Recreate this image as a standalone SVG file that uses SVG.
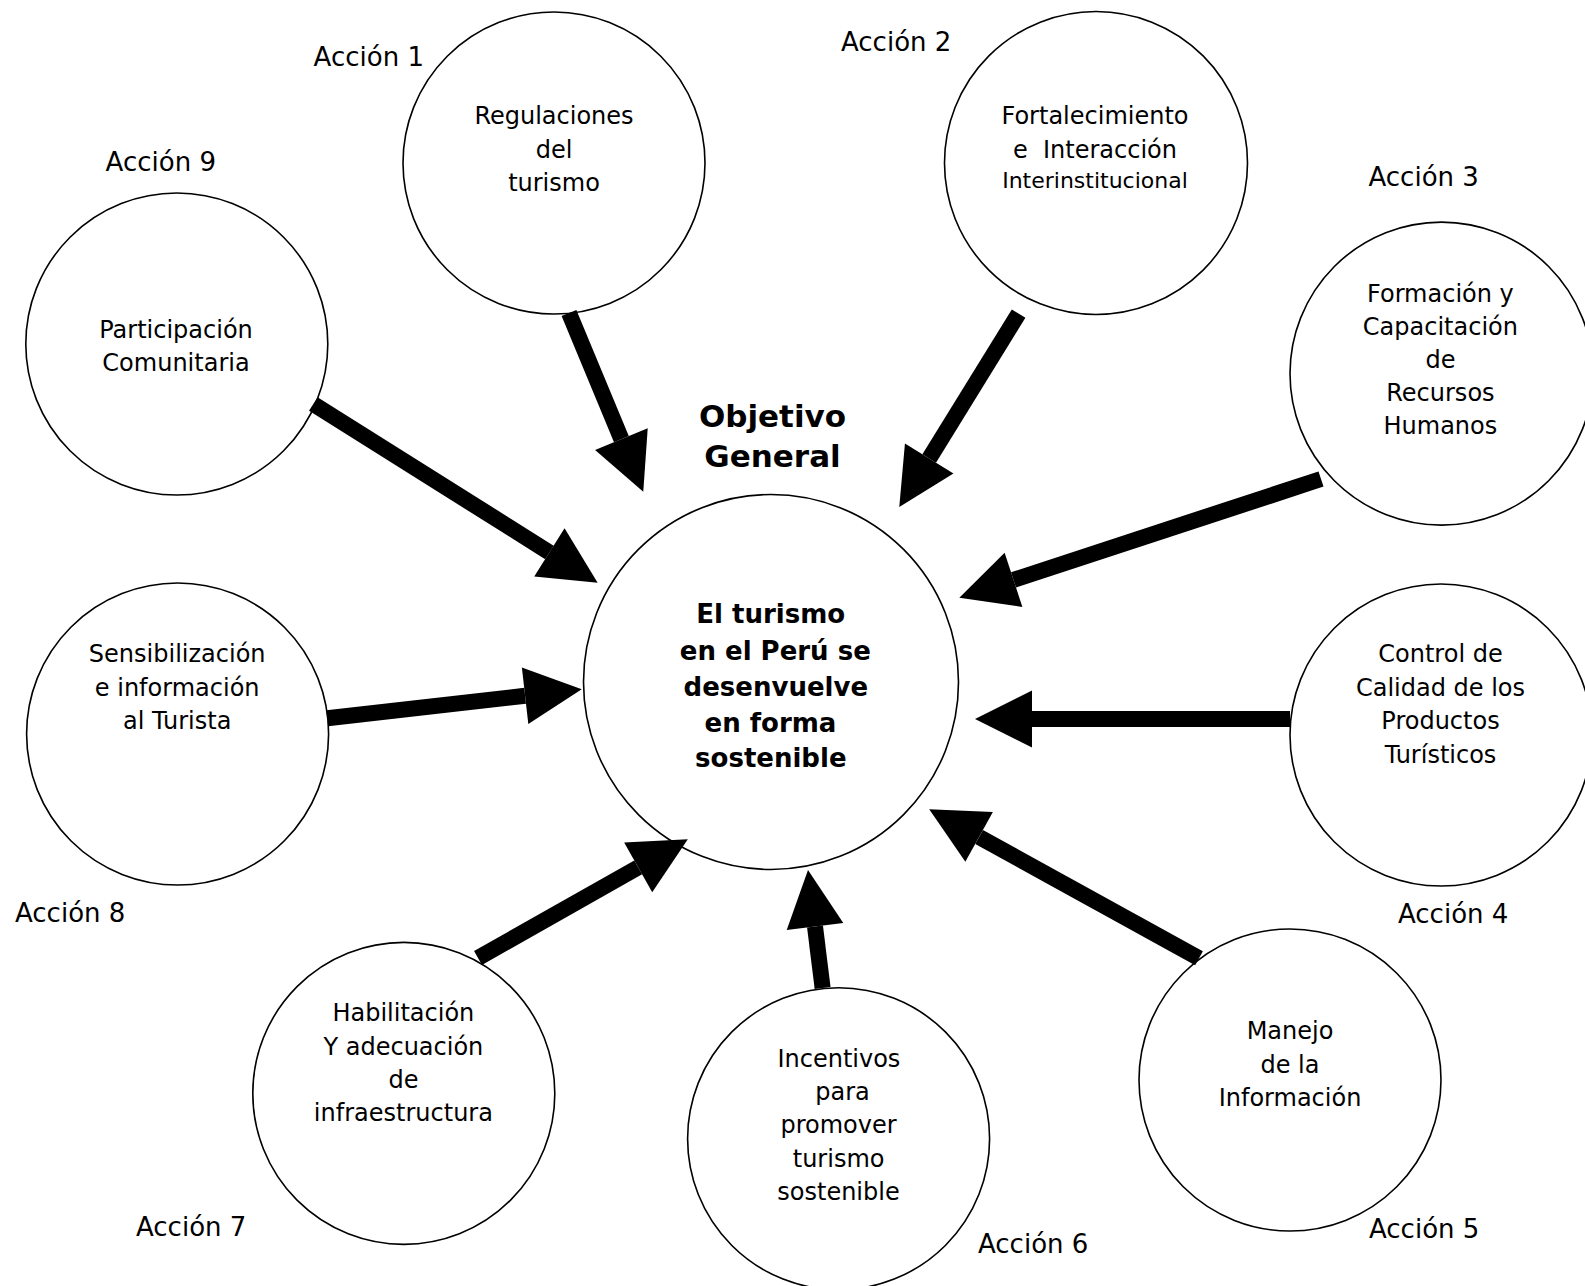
<svg xmlns="http://www.w3.org/2000/svg" width="1585" height="1286" viewBox="0 0 1585 1286">
<style>
.c{fill:#fff;stroke:#000;stroke-width:1.6}
.t{font-family:"DejaVu Sans","Liberation Sans",sans-serif;font-size:24px;fill:#000;text-anchor:middle}
.s{font-size:22px}
.a{font-family:"DejaVu Sans","Liberation Sans",sans-serif;font-size:26px;fill:#000}
.b{font-family:"DejaVu Sans","Liberation Sans",sans-serif;font-weight:bold;font-size:26px;fill:#000;text-anchor:middle}
.h{font-size:31px}
.sh{stroke:#000;stroke-width:16;fill:none;marker-end:url(#head)}
</style>
<defs>
<marker id="head" markerUnits="userSpaceOnUse" markerWidth="58" markerHeight="58" refX="0" refY="28.5" orient="auto" overflow="visible">
<path d="M0,0 L57,28.5 L0,57 Z" fill="#000"/>
</marker>
</defs>
<rect width="1585" height="1286" fill="#fff"/>

<g id="center">
<circle class="c" cx="771" cy="682" r="187.5"/>
<text class="b" x="770.7" y="623.3">El turismo</text>
<text class="b" x="775.3" y="660">en el Perú se</text>
<text class="b" x="775.8" y="696">desenvuelve</text>
<text class="b" x="770.5" y="731.7">en forma</text>
<text class="b" x="770.8" y="767.3">sostenible</text>
</g>
<g id="objetivo">
<text class="b h" x="772.5" y="426.7">Objetivo</text>
<text class="b h" x="772.5" y="466.7">General</text>
</g>

<g id="n1">
<circle class="c" cx="554" cy="163" r="151"/>
<text class="t" x="554" y="124.3">Regulaciones</text>
<text class="t" x="554" y="157.7">del</text>
<text class="t" x="554" y="191">turismo</text>
<text class="a" x="313.6" y="65.7">Acción 1</text>
</g>
<g id="n2">
<circle class="c" cx="1096" cy="163" r="151.5"/>
<text class="t" x="1095" y="124">Fortalecimiento</text>
<text class="t" x="1095" y="158" style="white-space:pre">e  Interacción</text>
<text class="t s" x="1095" y="187.5">Interinstitucional</text>
<text class="a" x="841" y="51">Acción 2</text>
</g>
<g id="n3">
<circle class="c" cx="1441.5" cy="373.6" r="151.5"/>
<text class="t" x="1440.4" y="301.5">Formación y</text>
<text class="t" x="1440.4" y="335">Capacitación</text>
<text class="t" x="1440.4" y="368">de</text>
<text class="t" x="1440.4" y="401">Recursos</text>
<text class="t" x="1440.4" y="433.5">Humanos</text>
<text class="a" x="1368.5" y="185.7">Acción 3</text>
</g>
<g id="n4">
<circle class="c" cx="1441" cy="735" r="151"/>
<text class="t" x="1440.5" y="662">Control de</text>
<text class="t" x="1440.5" y="695.6">Calidad de los</text>
<text class="t" x="1440.5" y="729">Productos</text>
<text class="t" x="1440.5" y="762.8">Turísticos</text>
<text class="a" x="1398" y="922.5">Acción 4</text>
</g>
<g id="n5">
<circle class="c" cx="1290" cy="1080" r="151"/>
<text class="t" x="1290" y="1039">Manejo</text>
<text class="t" x="1290" y="1072.5">de la</text>
<text class="t" x="1290" y="1106">Información</text>
<text class="a" x="1369" y="1238">Acción 5</text>
</g>
<g id="n6">
<circle class="c" cx="838.6" cy="1138.7" r="151"/>
<text class="t" x="838.9" y="1066.7">Incentivos</text>
<text class="t" x="842.5" y="1100">para</text>
<text class="t" x="838.5" y="1133">promover</text>
<text class="t" x="838.6" y="1166.5">turismo</text>
<text class="t" x="838.5" y="1199.5">sostenible</text>
<text class="a" x="978" y="1252.7">Acción 6</text>
</g>
<g id="n7">
<circle class="c" cx="403.8" cy="1093.4" r="151"/>
<text class="t" x="403.4" y="1021">Habilitación</text>
<text class="t" x="403.4" y="1054.5">Y adecuación</text>
<text class="t" x="403.4" y="1087.8">de</text>
<text class="t" x="403.4" y="1121">infraestructura</text>
<text class="a" x="136" y="1236">Acción 7</text>
</g>
<g id="n8">
<circle class="c" cx="177.6" cy="734" r="151"/>
<text class="t" x="177.2" y="662.3">Sensibilización</text>
<text class="t" x="177.2" y="695.5">e información</text>
<text class="t" x="177.2" y="729">al Turista</text>
<text class="a" x="15" y="922">Acción 8</text>
</g>
<g id="n9">
<circle class="c" cx="176.8" cy="344" r="151"/>
<text class="t" x="176" y="337.5">Participación</text>
<text class="t" x="176" y="371">Comunitaria</text>
<text class="a" x="105.6" y="170.7">Acción 9</text>
</g>

<g id="connectors">
<line class="sh" x1="569" y1="313" x2="621.4" y2="439.1"/>
<line class="sh" x1="1018.6" y1="313.6" x2="929.2" y2="458.5"/>
<line class="sh" x1="1321" y1="479" x2="1013.5" y2="579.9"/>
<line class="sh" x1="1290" y1="719" x2="1032" y2="719"/>
<line class="sh" x1="1199" y1="958.3" x2="979.1" y2="836.9"/>
<line class="sh" x1="822.6" y1="988" x2="815" y2="926.6"/>
<line class="sh" x1="478" y1="958" x2="638.2" y2="867.4"/>
<line class="sh" x1="327.3" y1="718.3" x2="525.1" y2="695.8"/>
<line class="sh" x1="313.3" y1="404" x2="549.4" y2="552.4"/>
</g>
</svg>
